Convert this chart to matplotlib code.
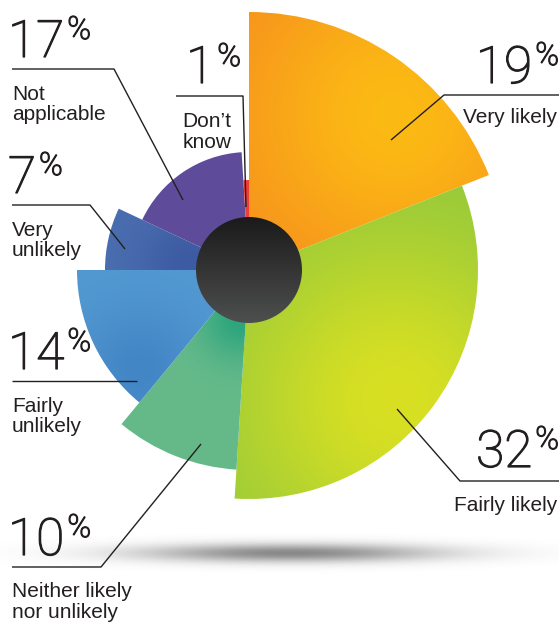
import numpy as np
import matplotlib.pyplot as plt
import matplotlib.patheffects as pe
from matplotlib.patches import Wedge, Circle
from matplotlib.colors import to_rgb

# ---- data (clockwise from 12 o'clock) ----
categories = ["Very likely", "Fairly likely", "Neither likely\nnor unlikely",
              "Fairly\nunlikely", "Very\nunlikely", "Not\napplicable", "Don\u2019t\nknow"]
values = [19, 32, 10, 14, 7, 17, 1]

# ---- style ----
radii = [258, 229, 200, 172, 144, 118, 90]          # stepped radius of each slice (px)
base_cols = ["#F58A1F", "#8CC63F", "#66BA8A", "#5399D1", "#4A6EB0", "#5E4B9A", "#EF3E36"]
hi_cols   = ["#FCBA14", "#D9E022", "#2EA57E", "#4386C6", "#3D5BA2", "#5E4B9A", "#EF3E36"]
hi_pts    = [(395, 115, 110), (395, 400, 120), (240, 320, 28), (140, 370, 45),
             (190, 262, 35), (200, 200, 60), (246, 230, 30)]

W, H = 559, 623
cx, cy, hole_r = 249, 270, 53

fig = plt.figure(figsize=(W / 100, H / 100), dpi=100)
ax = fig.add_axes([0, 0, 1, 1])
ax.axis('off')
ax.set_xlim(0, W)
ax.set_ylim(H, 0)

yy, xx = np.mgrid[0:H, 0:W] + 0.5


def grad_img(base, hi, hx, hy, s):
    d2 = (xx - hx) ** 2 + (yy - hy) ** 2
    t = np.exp(-d2 / (2 * s * s))[..., None]
    return np.array(to_rgb(base)) * (1 - t) + np.array(to_rgb(hi)) * t


# shadow
alpha = 0.62 * np.exp(-0.5 * ((xx - 290) / 105) ** 2 - 0.5 * ((yy - 553) / 6.5) ** 2)
sh = np.zeros((H, W, 4))
sh[..., :3] = 0.25
sh[..., 3] = alpha
ax.imshow(sh, extent=(0, W, H, 0), origin='upper', zorder=0, interpolation='bilinear')

cum = np.concatenate([[0], np.cumsum(values)])
for i, v in enumerate(values):
    a_start = 90 - 3.6 * cum[i]
    a_end = 90 - 3.6 * cum[i + 1]
    w = Wedge((cx, cy), radii[i], -a_start, -a_end, facecolor='none', edgecolor='none')
    ax.add_patch(w)
    hx, hy, s = hi_pts[i]
    im = ax.imshow(grad_img(base_cols[i], hi_cols[i], hx, hy, s), extent=(0, W, H, 0),
                   origin='upper', zorder=2, interpolation='bilinear')
    im.set_clip_path(w)

# centre hole with vertical gradient
hole = Circle((cx, cy), hole_r, facecolor='none', edgecolor='none')
ax.add_patch(hole)
t = np.clip((yy - (cy - hole_r)) / (2 * hole_r), 0, 1)[..., None]
himg = np.array(to_rgb("#1A1A1A")) * (1 - t) + np.array(to_rgb("#4E4F4F")) * t
imh = ax.imshow(himg, extent=(0, W, H, 0), origin='upper', zorder=3, interpolation='bilinear')
imh.set_clip_path(hole)

ax.set_xlim(0, W)
ax.set_ylim(H, 0)
ax.set_aspect('auto')

# ---- labels ----
txt = "#231F20"
thick = [pe.withStroke(linewidth=0.9, foreground=txt)]
num_font = dict(family="Roboto", weight="light", color=txt, path_effects=thick)
lab_font = dict(family="Liberation Sans", fontsize=15, color=txt)

# (number anchor x, number baseline, side), % baseline, (label x, baseline, ha)
label_pos = {
    "Very likely": ((559, 83, 'right'), 65, (557, 123, 'right')),
    "Fairly likely": ((559, 467, 'right'), 449, (557, 511, 'right')),
    "Neither likely\nnor unlikely": ((8, 555, 'left'), 537, (12, 597, 'left')),
    "Fairly\nunlikely": ((8, 369, 'left'), 351, (12, 412, 'left')),
    "Very\nunlikely": ((8, 193, 'left'), 175, (12, 236, 'left')),
    "Not\napplicable": ((8, 57, 'left'), 39, (12, 100, 'left')),
    "Don\u2019t\nknow": ((186, 83, 'left'), 66, (207, 127, 'center')),
}

fig.canvas.draw()
renderer = fig.canvas.get_renderer()
inv = ax.transData.inverted()

for cat, v in zip(categories, values):
    (nx, ny, side), py, (lx, ly, lha) = label_pos[cat]
    if side == 'left':
        tn = ax.text(nx, ny, str(v), fontsize=37, ha='left', va='baseline', zorder=5, **num_font)
        bb = tn.get_window_extent(renderer)
        x1 = inv.transform((bb.x1, bb.y0))[0]
        ax.text(x1 + 3, py, "%", fontsize=23, ha='left', va='baseline', zorder=5, **num_font)
    else:
        tp = ax.text(nx, py, "%", fontsize=23, ha='right', va='baseline', zorder=5, **num_font)
        bb = tp.get_window_extent(renderer)
        x0 = inv.transform((bb.x0, bb.y0))[0]
        ax.text(x0 - 3, ny, str(v), fontsize=37, ha='right', va='baseline', zorder=5, **num_font)
    for k, ln in enumerate(cat.split("\n")):
        ax.text(lx, ly + 20.5 * k, ln, ha=lha, va='baseline', zorder=5, **lab_font)

leaders = {
    "Not\napplicable": [(12, 69), (114, 69), (183, 200)],
    "Don\u2019t\nknow": [(176, 96), (243, 96), (246, 207)],
    "Very likely": [(559, 95), (444, 95), (391, 140)],
    "Very\nunlikely": [(12, 205), (90, 205), (125, 249)],
    "Fairly\nunlikely": [(12, 381), (137, 381)],
    "Fairly likely": [(559, 481), (460, 481), (397, 409)],
    "Neither likely\nnor unlikely": [(12, 567), (101, 567), (201, 444)],
}
for cat, pts in leaders.items():
    xs, ys = zip(*pts)
    ax.plot(xs, ys, color="#231F20", lw=1.0, zorder=4, solid_capstyle='butt')

ax.set_xlim(0, W)
ax.set_ylim(H, 0)

fig.savefig("out.png", dpi=100, facecolor='white')
